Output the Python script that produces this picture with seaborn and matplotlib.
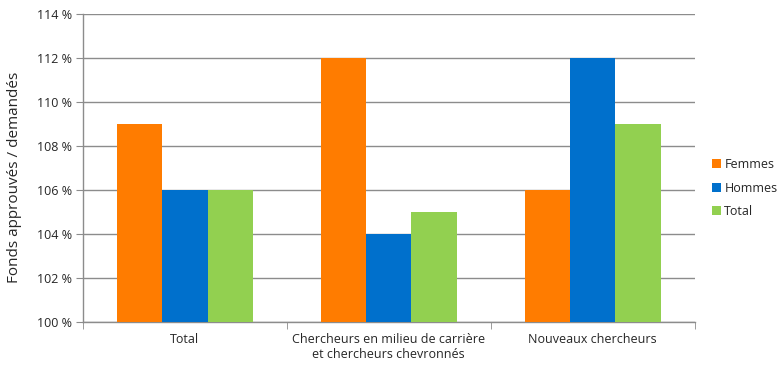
import pandas as pd
import seaborn as sns
import matplotlib.pyplot as plt
from matplotlib.ticker import FixedLocator, FuncFormatter

sns.set_style("white")
plt.rcParams['font.family'] = ['Open Sans', 'DejaVu Sans']

categories = ["Total", "Chercheurs en milieu de carrière\net chercheurs chevronnés", "Nouveaux chercheurs"]
groups = ["Femmes", "Hommes", "Total"]
femmes = [109, 112, 106]
hommes = [106, 104, 112]
total = [106, 105, 109]
colors = ["#FF7C00", "#0070CC", "#92D050"]

rows = []
for g, vals in zip(groups, [femmes, hommes, total]):
    for c, v in zip(categories, vals):
        rows.append({"cat": c, "grp": g, "val": v})
df = pd.DataFrame(rows)

fig = plt.figure(figsize=(7.83, 3.84), dpi=100)
ax = fig.add_axes([0.106, 0.161, 0.781, 0.803])
sns.barplot(data=df, x="cat", y="val", hue="grp", palette=colors, width=0.667,
            saturation=1, linewidth=0, ax=ax, zorder=3)

ax.set_ylim(100, 114)
ax.set_yticks(range(100, 115, 2))
ax.yaxis.set_major_formatter(FuncFormatter(lambda v, p: "%d %%" % v))
ax.grid(axis="y", color="#8c8c8c", linewidth=1, zorder=0)
ax.set_xlim(-0.5, 2.5)
ax.set_xlabel("")
ax.set_ylabel("Fonds approuvés / demandés", fontsize=11, color="#262626")
ax.yaxis.set_label_coords(-0.1, 0.47)

for s in ["top", "right"]:
    ax.spines[s].set_visible(False)
for s in ["left", "bottom"]:
    ax.spines[s].set_color("#8c8c8c")
    ax.spines[s].set_linewidth(1)

ax.tick_params(axis="y", left=True, length=5, color="#8c8c8c", labelsize=9, pad=3)
ax.tick_params(axis="x", which="major", length=0, labelsize=9, pad=8)
ax.xaxis.set_minor_locator(FixedLocator([-0.5, 0.5, 1.5, 2.5]))
ax.tick_params(axis="x", which="minor", bottom=True, length=5, color="#8c8c8c")

ax.legend(title=None, frameon=False, loc="center left", bbox_to_anchor=(1.01, 0.435),
          fontsize=9, handlelength=0.7, handleheight=0.7, handletextpad=0.3,
          labelspacing=0.85)

fig.savefig("out.png", dpi=100)
